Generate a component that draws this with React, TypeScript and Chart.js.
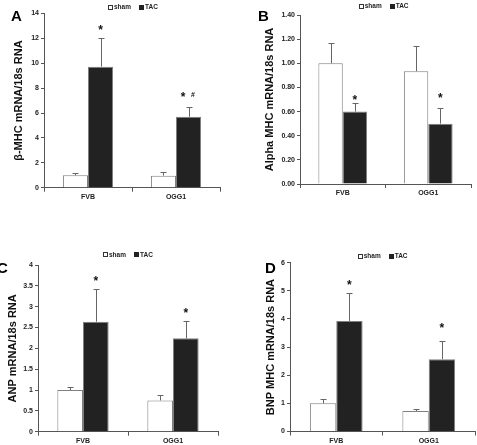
import React, { useEffect, useRef } from 'react';
import { Chart, registerables } from 'chart.js';

Chart.register(...registerables);

const FONT = "'Liberation Sans', Arial, sans-serif";

const categories = ['FVB', 'OGG1'];
const seriesLabels = ['sham', 'TAC'];

// Panel A: beta-MHC
const aSham = [1.0, 0.97];
const aShamErr = [0.15, 0.28];
const aTac = [9.73, 5.7];
const aTacErr = [2.33, 0.76];
const aMarks = ['*', '* #'];
const aMarkY = [12.9, 7.5];

// Panel B: alpha-MHC
const bSham = [1.0, 0.935];
const bShamErr = [0.165, 0.205];
const bTac = [0.6, 0.5];
const bTacErr = [0.07, 0.13];
const bMarks = ['*', '*'];
const bMarkY = [0.72, 0.74];

// Panel C: ANP
const cSham = [1.0, 0.75];
const cShamErr = [0.08, 0.13];
const cTac = [2.64, 2.24];
const cTacErr = [0.79, 0.42];
const cMarks = ['*', '*'];
const cMarkY = [3.7, 2.92];

// Panel D: BNP
const dSham = [1.0, 0.73];
const dShamErr = [0.15, 0.06];
const dTac = [3.93, 2.57];
const dTacErr = [1.0, 0.63];
const dMarks = ['*', '*'];
const dMarkY = [5.33, 3.8];

type Panel = {
  letter: string;
  title: string;
  left: number; top: number; width: number; height: number;
  pad: { top: number; right: number; bottom: number; left: number };
  yWidth: number; xHeight: number; titleX: number;
  yMax: number; yStep: number; decimals: number | null;
  letterX: number; letterY: number;
  legendX: number; legendY: number;
  sham: number[]; shamErr: number[]; tac: number[]; tacErr: number[];
  marks: string[]; markY: number[];
};

const panels: Panel[] = [
  {
    letter: 'A', title: 'β-MHC mRNA/18s RNA',
    left: 0, top: 0, width: 238, height: 222,
    pad: { top: 13.5, right: 18, bottom: 14.3, left: 0 },
    yWidth: 44, xHeight: 20, titleX: 19,
    yMax: 14, yStep: 2, decimals: null,
    letterX: 11, letterY: 20.5, legendX: 108, legendY: 6.5,
    sham: aSham, shamErr: aShamErr, tac: aTac, tacErr: aTacErr, marks: aMarks, markY: aMarkY,
  },
  {
    letter: 'B', title: 'Alpha MHC mRNA/18s RNA',
    left: 238, top: 0, width: 239, height: 222,
    pad: { top: 15, right: 6, bottom: 18, left: 0 },
    yWidth: 62, xHeight: 20, titleX: 32.3,
    yMax: 1.4, yStep: 0.2, decimals: 2,
    letterX: 20, letterY: 21, legendX: 120.7, legendY: 5.5,
    sham: bSham, shamErr: bShamErr, tac: bTac, tacErr: bTacErr, marks: bMarks, markY: bMarkY,
  },
  {
    letter: 'C', title: 'ANP mRNA/18s RNA',
    left: 0, top: 222, width: 238, height: 223,
    pad: { top: 43, right: 20, bottom: 0.3, left: 0 },
    yWidth: 38, xHeight: 13, titleX: 12.8,
    yMax: 4, yStep: 0.5, decimals: null,
    letterX: -3, letterY: 51, legendX: 103, legendY: 32.3,
    sham: cSham, shamErr: cShamErr, tac: cTac, tacErr: cTacErr, marks: cMarks, markY: cMarkY,
  },
  {
    letter: 'D', title: 'BNP MHC mRNA/18s RNA',
    left: 238, top: 222, width: 239, height: 223,
    pad: { top: 40.7, right: 2, bottom: 0.5, left: 0 },
    yWidth: 52, xHeight: 13, titleX: 32.7,
    yMax: 6, yStep: 1, decimals: null,
    letterX: 27, letterY: 51, legendX: 119.7, legendY: 33.7,
    sham: dSham, shamErr: dShamErr, tac: dTac, tacErr: dTacErr, marks: dMarks, markY: dMarkY,
  },
];

const overlayPlugin = {
  id: 'overlay',
  afterDatasetsDraw(chart: any, _args: any, opts: any) {
    const ctx: CanvasRenderingContext2D = chart.ctx;
    const yScale = chart.scales.y;
    ctx.save();
    // error bars (upper only)
    ctx.strokeStyle = '#666666';
    ctx.lineWidth = 1;
    (opts.errors as number[][]).forEach((errs, di) => {
      const meta = chart.getDatasetMeta(di);
      const vals = chart.data.datasets[di].data as number[];
      meta.data.forEach((el: any, i: number) => {
        const x = Math.round(el.x) + 0.5;
        const top = Math.round(yScale.getPixelForValue(vals[i] + errs[i])) + 0.5;
        ctx.beginPath();
        ctx.moveTo(x, el.y);
        ctx.lineTo(x, top);
        ctx.moveTo(x - 3, top);
        ctx.lineTo(x + 3, top);
        ctx.stroke();
      });
    });
    // significance marks
    const tacMeta = chart.getDatasetMeta(1);
    ctx.fillStyle = '#111111';
    ctx.textAlign = 'center';
    ctx.textBaseline = 'alphabetic';
    (opts.marks as string[]).forEach((txt, i) => {
      const bx = tacMeta.data[i].x;
      const py = yScale.getPixelForValue(opts.markY[i]);
      const parts = txt.split(' ');
      const offsets = parts.length === 1 ? [0] : [-5.5, 4.5];
      parts.forEach((p, k) => {
        if (p === '*') {
          ctx.font = `bold 12px ${FONT}`;
          ctx.fillText(p, bx + offsets[k], py + 7);
        } else {
          ctx.font = `bold 7px ${FONT}`;
          ctx.fillText(p, bx + offsets[k], py + 2.5);
        }
      });
    });
    // legend
    const lx = opts.legendX;
    const ly = opts.legendY;
    ctx.font = `bold 6.5px ${FONT}`;
    ctx.textAlign = 'left';
    ctx.textBaseline = 'middle';
    let cx = lx;
    (opts.labels as string[]).forEach((lab, k) => {
      if (k === 0) {
        ctx.fillStyle = '#ffffff';
        ctx.fillRect(cx, ly - 2, 4, 4);
        ctx.strokeStyle = '#333333';
        ctx.strokeRect(Math.round(cx) + 0.5, Math.round(ly - 2) + 0.5, 4, 4);
      } else {
        ctx.fillStyle = '#222222';
        ctx.fillRect(Math.round(cx), Math.round(ly - 2), 5, 5);
      }
      cx += 6;
      ctx.fillStyle = '#222222';
      ctx.fillText(lab, cx, ly + 0.5);
      cx += ctx.measureText(lab).width + 8;
    });
    // panel letter
    ctx.font = `bold 15px ${FONT}`;
    ctx.textBaseline = 'alphabetic';
    ctx.fillStyle = '#000000';
    ctx.fillText(opts.letter, opts.letterX, opts.letterY);
    ctx.restore();
  },
};

function PanelChart({ p }: { p: Panel }) {
  const ref = useRef<HTMLCanvasElement | null>(null);
  useEffect(() => {
    if (!ref.current) return;
    const axisColor = '#555555';
    const chart = new Chart(ref.current, {
      type: 'bar',
      data: {
        labels: categories,
        datasets: [
          {
            label: seriesLabels[0], data: p.sham,
            backgroundColor: '#ffffff', borderColor: '#7f7f7f', borderWidth: 1,
            categoryPercentage: 0.57, barPercentage: 1,
          },
          {
            label: seriesLabels[1], data: p.tac,
            backgroundColor: '#222222', borderColor: '#7f7f7f', borderWidth: 1,
            categoryPercentage: 0.57, barPercentage: 1,
          },
        ],
      },
      options: {
        responsive: false,
        animation: false,
        devicePixelRatio: 1,
        layout: { padding: p.pad },
        plugins: {
          legend: { display: false },
          tooltip: { enabled: false },
          overlay: {
            errors: [p.shamErr, p.tacErr], marks: p.marks, markY: p.markY,
            legendX: p.legendX, legendY: p.legendY, labels: seriesLabels,
            letter: p.letter, letterX: p.letterX, letterY: p.letterY,
          },
        } as any,
        scales: {
          x: {
            afterFit: (s: any) => { s.height = p.xHeight; },
            grid: { display: true, drawOnChartArea: false, drawTicks: true, tickLength: 4, color: axisColor },
            border: { display: true, color: axisColor, width: 1 },
            ticks: { color: '#222222', font: { family: FONT, size: 7, weight: 'bold' }, padding: 1 },
          },
          y: {
            min: 0, max: p.yMax,
            afterFit: (s: any) => { s.width = p.yWidth; },
            grid: { display: true, drawOnChartArea: false, drawTicks: true, tickLength: 3, color: axisColor },
            border: { display: true, color: axisColor, width: 1 },
            ticks: {
              stepSize: p.yStep,
              padding: 2,
              color: '#222222',
              font: { family: FONT, size: 7, weight: 'bold' },
              callback: (v: any) => (p.decimals !== null ? Number(v).toFixed(p.decimals) : String(Math.round(Number(v) * 100) / 100)),
            },
            title: {
              display: true, text: p.title, color: '#111111',
              font: { family: FONT, size: 11, weight: 'bold' },
              padding: { top: p.titleX - 6.6, bottom: 0 },
            },
          },
        },
      } as any,
      plugins: [overlayPlugin],
    });
    return () => chart.destroy();
  }, [p]);
  return (
    <canvas
      ref={ref}
      width={p.width}
      height={p.height}
      style={{ position: 'absolute', left: p.left, top: p.top, width: p.width, height: p.height }}
    />
  );
}

export default function App() {
  useEffect(() => {
    document.body.style.margin = '0';
    document.body.style.background = '#ffffff';
  }, []);
  return (
    <div style={{ position: 'relative', width: 477, height: 445, background: '#ffffff', overflow: 'hidden' }}>
      {panels.map((p) => (
        <PanelChart key={p.letter} p={p} />
      ))}
    </div>
  );
}
